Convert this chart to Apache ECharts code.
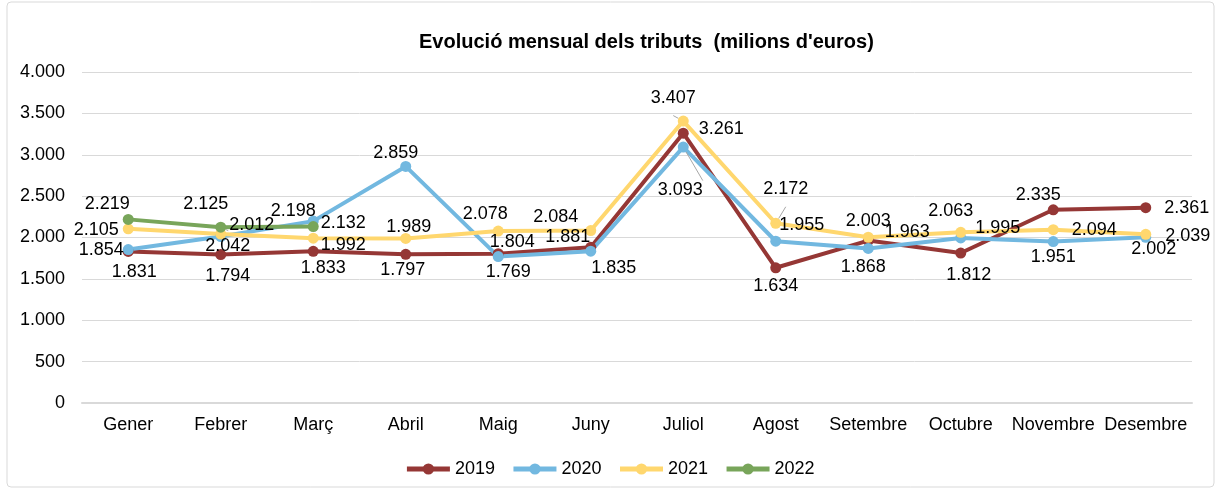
<!DOCTYPE html>
<html lang="ca">
<head>
    <meta charset="UTF-8">
    <title>Evolució mensual dels tributs</title>
    <script src="https://cdn.jsdelivr.net/npm/echarts@6/dist/echarts.min.js"></script>
    <style>
        html, body { margin: 0; padding: 0; background: #fff; }
        #chart { width: 1219px; height: 490px; }
    </style>
</head>
<body>
    <div id="chart"></div>
    <script>
        // dades (milions d'euros)
        const mesos = ['Gener', 'Febrer', 'Març', 'Abril', 'Maig', 'Juny', 'Juliol', 'Agost', 'Setembre', 'Octubre', 'Novembre', 'Desembre'];
        const anys = ['2019', '2020', '2021', '2022'];
        const v2019 = [1831, 1794, 1833, 1797, 1804, 1881, 3261, 1634, 1963, 1812, 2335, 2361];
        const v2020 = [1854, 2012, 2198, 2859, 1769, 1835, 3093, 1955, 1868, 1995, 1951, 2002];
        const v2021 = [2105, 2042, 1992, 1989, 2078, 2084, 3407, 2172, 2003, 2063, 2094, 2039];
        const v2022 = [2219, 2125, 2132];
        const yTicks = [0, 500, 1000, 1500, 2000, 2500, 3000, 3500, 4000];

        const colors = ['#953735', '#72b8e0', '#ffd76e', '#78a55a'];

        // on va cada etiqueta: [posició, dx, dy, línia guia]
        const labelPos = [
            [['bottom',6,1],['bottom',7,2],['bottom',10,-3],['bottom',-3,-4],['top',14,8],['top',-23,9],
             ['right',5,-4],['bottom',0,-1],['right',6,-9],['bottom',8,2],['top',-15,5],['right',8,0]],
            [['left',6,0],['right',-2,-11],['top',-20,9],['top',-10,6],['bottom',10,-4],['bottom',23,-3],
             ['bottom',-3,23,1],['right',-7,-16],['bottom',-5,-1],['right',4,-10],['bottom',0,-4],['bottom',8,-8]],
            [['left',1,1],['bottom',7,-7],['right',-3,7],['top',3,8],['top',-13,2],['top',-35,6],
             ['top',-10,-4,1],['top',10,-15,1],['top',0,3],['top',-10,-2],['right',8,0],['right',9,2]],
            [['top',-21,4],['top',-15,-4,1],['right',-3,-4]]
        ];

        function fmt(v) {
            return String(v).replace(/\B(?=(\d{3})+(?!\d))/g, '.');
        }

        const valors = [v2019, v2020, v2021, v2022];
        const series = valors.map(function (vals, s) {
            return {
                name: anys[s],
                type: 'line',
                data: vals.map(function (v, i) {
                    const p = labelPos[s][i];
                    return {
                        value: v,
                        label: { position: p[0], offset: [p[1], p[2]] },
                        labelLine: { show: !!p[3] }
                    };
                }),
                symbol: 'circle',
                symbolSize: 11,
                lineStyle: { width: 4, color: colors[s] },
                itemStyle: { color: colors[s] },
                label: {
                    show: true,
                    distance: 5,
                    color: '#000',
                    fontSize: 18,
                    fontFamily: 'Liberation Sans',
                    formatter: function (p) { return fmt(p.value); }
                },
                labelLine: { show: false, lineStyle: { color: '#a6a6a6', width: 1 } },
                emphasis: { disabled: true },
                animation: false
            };
        });

        const chart = echarts.init(document.getElementById('chart'));
        chart.setOption({
            animation: false,
            textStyle: { fontFamily: 'Liberation Sans' },
            title: {
                text: "Evolució mensual dels tributs  (milions d'euros)",
                left: 414,
                top: 27,
                textStyle: { fontSize: 20, fontWeight: 'bold', color: '#000', fontFamily: 'Liberation Sans' }
            },
            graphic: [{
                type: 'rect',
                shape: { x: 7, y: 2, width: 1207, height: 485, r: 4 },
                style: { fill: 'none', stroke: '#d9d9d9', lineWidth: 1 },
                silent: true
            }],
            legend: {
                data: anys,
                left: 'center',
                top: 455,
                itemWidth: 43,
                itemHeight: 14,
                itemGap: 16,
                lineStyle: { width: 5 },
                textStyle: { fontSize: 18, color: '#000', fontFamily: 'Liberation Sans' }
            },
            grid: { left: 82, right: 27, top: 72, bottom: 87 },
            xAxis: {
                type: 'category',
                data: mesos,
                boundaryGap: true,
                axisLine: { lineStyle: { color: '#d9d9d9', width: 2 } },
                axisTick: { show: false },
                axisLabel: { color: '#000', fontSize: 18, margin: 13, interval: 0 }
            },
            yAxis: {
                type: 'value',
                min: yTicks[0],
                max: yTicks[yTicks.length - 1],
                interval: yTicks[1] - yTicks[0],
                axisLine: { show: false },
                axisTick: { show: false },
                splitLine: { lineStyle: { color: '#d9d9d9', width: 1 } },
                axisLabel: { color: '#000', fontSize: 18, margin: 17, formatter: fmt }
            },
            series: series
        });
    </script>
</body>
</html>
